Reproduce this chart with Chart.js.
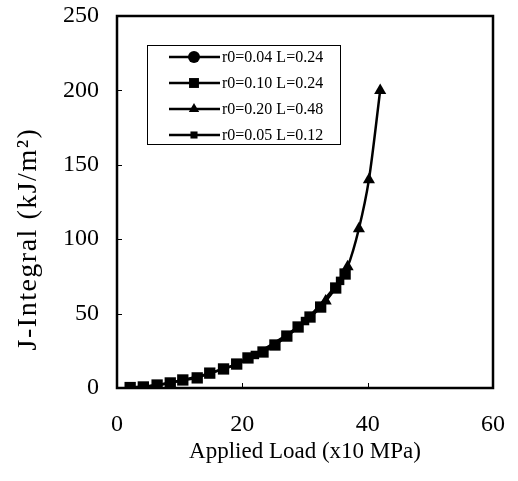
<!DOCTYPE html>
<html>
<head>
<meta charset="utf-8">
<script src="https://cdn.jsdelivr.net/npm/chart.js@4.4.1/dist/chart.umd.min.js"></script>
<style>
  html, body { margin: 0; padding: 0; background: #fff; }
  #wrap { width: 518px; height: 481px; }
</style>
</head>
<body>
<div id="wrap"><canvas id="c" width="518" height="481"></canvas></div>
<script>
// series labels (legend order)
const seriesNames = ['r0=0.04 L=0.24', 'r0=0.10 L=0.24', 'r0=0.20 L=0.48', 'r0=0.05 L=0.12'];

// applied load (x10 MPa) and J-integral (kJ/m^2)
const loadA = [2.1, 6.4, 10.5, 14.8, 19.1, 23.3, 27.1, 30.8, 34.9];
const jA    = [0.3, 2.0, 5.4, 10.0, 16.1, 24.2, 34.9, 47.7, 67.2];

const loadB = [2.1, 4.2, 6.4, 8.5, 10.5, 12.8, 14.8, 17.0, 19.1, 20.9, 23.3, 25.2, 27.1, 28.9, 30.8, 32.5, 34.9, 36.4];
const jB    = [0.3, 0.7, 2.0, 3.4, 5.4, 6.8, 10.0, 12.8, 16.1, 20.2, 24.2, 28.9, 34.9, 41.0, 47.7, 54.4, 67.2, 76.6];

const loadC = [33.3, 36.8, 38.6, 40.2, 42.0];
const jC    = [58.5, 81.5, 107, 140, 200];

const loadD = [22.0, 30.0, 35.6];
const jD    = [22.2, 45.0, 72.0];

const xTicks = [0, 20, 40, 60];
const yTicks = [0, 50, 100, 150, 200, 250];

const xTitle = 'Applied Load (x10 MPa)';
const yTitle = 'J-Integral (kJ/m\u00b2)';

const FONT = '"Liberation Serif", "Times New Roman", serif';

function pts(xs, ys) { return xs.map((x, i) => ({ x: x, y: ys[i] })); }

function makeSet(label, xs, ys, style, radius, order) {
    return {
        label: label,
        data: pts(xs, ys),
        borderColor: '#000',
        backgroundColor: '#000',
        borderWidth: 2.5,
        pointStyle: style,
        pointRadius: radius,
        pointBorderWidth: 0,
        pointBackgroundColor: '#000',
        cubicInterpolationMode: 'monotone',
        order: order,
    };
}

const datasets = [
    makeSet(seriesNames[0], loadA, jA, 'circle', 5, 4),
    makeSet(seriesNames[1], loadB, jB, 'rect', 8, 1),
    makeSet(seriesNames[2], loadC, jC, 'triangle', 7, 2),
    makeSet(seriesNames[3], loadD, jD, 'rect', 6, 3),
];

// frame around plot area + inward tick marks
const framePlugin = {
    id: 'frame',
    afterDatasetsDraw(chart) {
        const { ctx, chartArea: a, scales } = chart;
        ctx.save();
        ctx.strokeStyle = '#000';
        ctx.lineWidth = 1;
        ctx.beginPath();
        yTicks.forEach(v => {
            const y = Math.round(scales.y.getPixelForValue(v)) + 0.5;
            ctx.moveTo(a.left, y); ctx.lineTo(a.left + 5, y);
        });
        xTicks.forEach(v => {
            const x = Math.round(scales.x.getPixelForValue(v)) + 0.5;
            ctx.moveTo(x, a.bottom); ctx.lineTo(x, a.bottom - 5);
        });
        ctx.stroke();
        ctx.lineWidth = 2.5;
        ctx.strokeRect(a.left, a.top, a.right - a.left, a.bottom - a.top);
        ctx.restore();
    }
};

// y title, a little larger and looser than the x title as in the original
const yTitlePlugin = {
    id: 'yTitle',
    afterDraw(chart) {
        const ctx = chart.ctx;
        ctx.save();
        ctx.translate(29, 239);
        ctx.rotate(-Math.PI / 2);
        ctx.font = '28px ' + FONT;
        ctx.letterSpacing = '1.5px';
        ctx.fillStyle = '#000';
        ctx.textAlign = 'center';
        ctx.textBaseline = 'middle';
        ctx.fillText(yTitle, 0, 0);
        ctx.restore();
    }
};

// boxed legend inside the plot, each entry shows line + marker
const legendPlugin = {
    id: 'boxLegend',
    afterDraw(chart) {
        const ctx = chart.ctx;
        const box = { x: 147, y: 45, w: 193, h: 99 };
        ctx.save();
        ctx.fillStyle = '#fff';
        ctx.fillRect(box.x, box.y, box.w, box.h);
        ctx.strokeStyle = '#000';
        ctx.lineWidth = 1;
        ctx.strokeRect(box.x + 0.5, box.y + 0.5, box.w, box.h);
        chart.data.datasets.forEach((ds, i) => {
            const y = box.y + 12 + i * 26;
            ctx.strokeStyle = '#000';
            ctx.lineWidth = 2.5;
            ctx.beginPath();
            ctx.moveTo(169, y); ctx.lineTo(220, y);
            ctx.stroke();
            ctx.fillStyle = '#000';
            Chart.helpers.drawPoint(ctx, {
                pointStyle: ds.pointStyle,
                radius: i === 3 ? 5 : (ds.pointStyle === 'rect' ? 7 : 6),
                borderWidth: 0,
                rotation: 0,
            }, 194, y);
            ctx.font = '16px ' + FONT;
            ctx.textBaseline = 'middle';
            ctx.textAlign = 'left';
            ctx.fillText(ds.label, 222, y + 1);
        });
        ctx.restore();
    }
};

new Chart(document.getElementById('c'), {
    type: 'line',
    data: { datasets: datasets },
    plugins: [framePlugin, legendPlugin, yTitlePlugin],
    options: {
        responsive: false,
        animation: false,
        layout: { padding: { top: 16, right: 25, left: 0, bottom: 0 } },
        plugins: {
            legend: { display: false },
            tooltip: { enabled: false },
        },
        scales: {
            x: {
                type: 'linear',
                min: 0, max: 60,
                afterFit: s => { s.height = 93; s.paddingLeft = 0; s.paddingRight = 0; },
                afterBuildTicks: s => { s.ticks = xTicks.map(v => ({ value: v })); },
                grid: { display: false, drawTicks: false },
                border: { display: false },
                ticks: { color: '#000', padding: 22, font: { family: FONT, size: 24 } },
                title: {
                    display: true,
                    text: xTitle,
                    color: '#000',
                    padding: { top: 0, bottom: 15 },
                    font: { family: FONT, size: 23 },
                },
            },
            y: {
                min: 0, max: 250,
                afterFit: s => { s.width = 117; s.paddingTop = 0; s.paddingBottom = 0; },
                afterBuildTicks: s => { s.ticks = yTicks.map(v => ({ value: v })); },
                grid: { display: false, drawTicks: false },
                border: { display: false },
                ticks: { color: '#000', padding: 18, font: { family: FONT, size: 24 } },
                title: { display: false },
            },
        },
    },
});
</script>
</body>
</html>
